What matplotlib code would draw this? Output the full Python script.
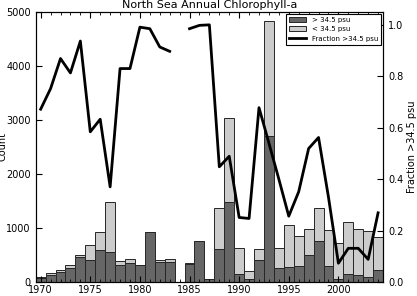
import numpy as np
import matplotlib
matplotlib.use("Agg")
import matplotlib.pyplot as plt
from matplotlib.ticker import MultipleLocator

# dane
lata = list(range(1970, 2005))

powyzej = [67, 130, 193, 265, 469, 401, 593, 549, 318, 359, 306, 918, 372, 377, 0,
           341, 757, 56, 611, 1487, 156, 52, 407, 2710, 250, 270, 302, 500, 765, 302,
           50, 142, 124, 87, 225]

ponizej = [32, 43, 29, 50, 25, 278, 339, 939, 65, 73, 3, 14, 35, 43, 0,
           5, 2, 0, 753, 1556, 467, 158, 198, 2123, 373, 785, 550, 475, 599, 661,
           666, 975, 851, 864, 615]

frakcja = [0.672, 0.752, 0.869, 0.813, 0.937, 0.584, 0.633, 0.370, 0.830, 0.830,
           0.991, 0.985, 0.914, 0.897, np.nan, 0.985, 0.998, 1.0, 0.448, 0.489,
           0.251, 0.247, 0.678, 0.54, 0.40, 0.256, 0.351, 0.519, 0.562, 0.33,
           0.073, 0.131, 0.131, 0.088, 0.269]

fig = plt.figure(figsize=(4.17, 2.96), dpi=100)
ax = fig.add_axes([0.0856, 0.0473, 0.833, 0.9122])

b1 = ax.bar(lata, powyzej, width=1.0, color='0.4', edgecolor='0.15', linewidth=0.7,
            label='> 34.5 psu')
b2 = ax.bar(lata, ponizej, width=1.0, bottom=powyzej, color='0.8', edgecolor='0.15',
            linewidth=0.7, label='< 34.5 psu')

ax.set_xlim(1969.5, 2004.5)
ax.set_ylim(0, 5000)
ax.set_yticks(range(0, 5001, 1000))
ax.xaxis.set_major_locator(MultipleLocator(5))
ax.xaxis.set_minor_locator(MultipleLocator(1))
ax.tick_params(axis='x', which='both', direction='in', top=True, labelsize=7, pad=2)
ax.tick_params(axis='x', which='major', length=4)
ax.tick_params(axis='x', which='minor', length=2)
ax.tick_params(axis='y', direction='in', length=4, labelsize=7, right=False)
ax.set_ylabel('Count', fontsize=7)
ax.yaxis.set_label_coords(-0.082, 0.5)
ax.set_title('North Sea Annual Chlorophyll-a', fontsize=8, pad=3)

ax2 = ax.twinx()
l1, = ax2.plot(lata, frakcja, color='black', linewidth=2, label='Fraction >34.5 psu')
ax2.set_ylim(0, 1.05)
ax2.set_yticks([0.0, 0.2, 0.4, 0.6, 0.8, 1.0])
ax2.set_yticklabels(['0.0', '0.2', '0.4', '0.6', '0.8', '1.0'])
ax2.tick_params(axis='y', direction='in', length=4, labelsize=7)
ax2.set_ylabel('Fraction >34.5 psu', fontsize=7, labelpad=3)

leg = ax2.legend([b1, b2, l1], ['> 34.5 psu', '< 34.5 psu', 'Fraction >34.5 psu'],
                 loc='upper right', fontsize=5, fancybox=False, framealpha=1,
                 edgecolor='black', borderaxespad=0.3, handlelength=2.5)
leg.get_frame().set_linewidth(0.8)

plt.savefig("out.png", dpi=100)
